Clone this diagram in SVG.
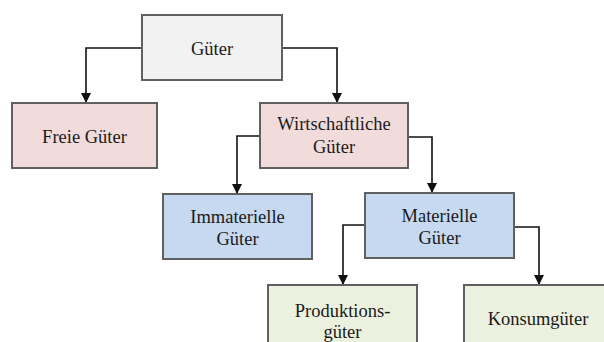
<svg xmlns="http://www.w3.org/2000/svg" width="604" height="342" viewBox="0 0 604 342">
<style>
.box{stroke:#606060;stroke-width:2}
.g{fill:#f2f2f2}.p{fill:#f2dcdb}.b{fill:#c6d9f1}.n{fill:#ebf1de}
text{font-family:"Liberation Serif","Times New Roman",serif;font-size:18.5px;fill:#1a1a1a;text-anchor:middle}
.c{fill:none;stroke:#111;stroke-width:1.6}
</style>
<defs>
<marker id="ah" markerWidth="10" markerHeight="10" refX="9" refY="5" orient="auto" markerUnits="userSpaceOnUse">
<path d="M0,0 L10,5 L0,10 Z" fill="#111"/>
</marker>
</defs>
<rect x="0" y="0" width="604" height="342" fill="#fff"/>
<g id="connectors">
<path class="c" d="M142,48 H86 V102" marker-end="url(#ah)"/>
<path class="c" d="M282,48 H337 V102" marker-end="url(#ah)"/>
<path class="c" d="M260,136 H237 V193" marker-end="url(#ah)"/>
<path class="c" d="M408,137 H432 V192" marker-end="url(#ah)"/>
<path class="c" d="M365,225 H343 V284" marker-end="url(#ah)"/>
<path class="c" d="M514,227 H539 V284" marker-end="url(#ah)"/>
</g>
<g id="gueter">
<rect class="box g" x="142" y="15" width="140" height="65"/>
<text x="212" y="55">Güter</text>
</g>
<g id="freie">
<rect class="box p" x="12" y="103" width="145" height="65"/>
<text x="84.5" y="143">Freie Güter</text>
</g>
<g id="wirtschaftliche">
<rect class="box p" x="260" y="103" width="148" height="65"/>
<text x="334" y="130">Wirtschaftliche</text>
<text x="334" y="153">Güter</text>
</g>
<g id="immaterielle">
<rect class="box b" x="163" y="194" width="149" height="65"/>
<text x="237.5" y="223">Immaterielle</text>
<text x="237.5" y="245">Güter</text>
</g>
<g id="materielle">
<rect class="box b" x="365" y="193" width="149" height="65"/>
<text x="439.5" y="222">Materielle</text>
<text x="439.5" y="244">Güter</text>
</g>
<g id="produktion">
<rect class="box n" x="268" y="285" width="149" height="70"/>
<text x="342.5" y="317">Produktions-</text>
<text x="342.5" y="338">güter</text>
</g>
<g id="konsum">
<rect class="box n" x="464" y="285" width="150" height="70"/>
<text x="538" y="325">Konsumgüter</text>
</g>
</svg>
